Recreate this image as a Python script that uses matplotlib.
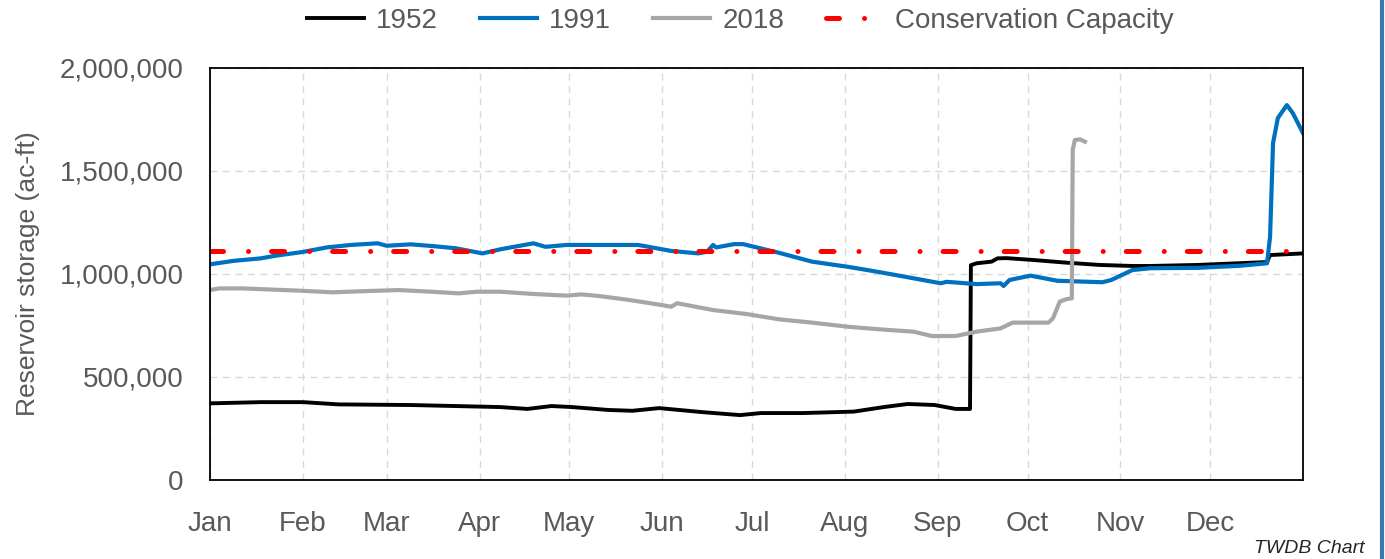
import numpy as np
import matplotlib
matplotlib.use('Agg')
import matplotlib.pyplot as plt
from matplotlib.lines import Line2D
from matplotlib.ticker import FuncFormatter

# day of year -> storage (ac-ft)
days_1952 = [0, 17, 31, 43, 67, 82, 97, 106, 114, 121, 133, 141, 150, 164, 177, 184,
             198, 215, 225, 233, 242, 249, 253.8, 254.1, 256, 261, 263, 266, 275, 286,
             297, 308, 314, 330, 353, 354, 365]
stor_1952 = [372000, 378000, 378000, 367000, 364000, 359000, 354000, 345000, 359000,
             354000, 340000, 336000, 349000, 330000, 315000, 325000, 325000, 332000,
             354000, 369000, 364000, 345000, 345000, 1043000, 1052000, 1060000, 1076000,
             1077000, 1068000, 1055000, 1044000, 1039000, 1039000, 1044000, 1058000,
             1092000, 1100000]

days_1991 = [0, 8, 17, 22, 31, 39, 47, 56, 59, 67, 74, 82, 91, 97, 108, 112, 119, 130,
             143, 154, 163, 166, 168, 169, 175, 178, 190, 201, 213, 224, 235, 244, 246,
             256, 264, 265, 267, 274, 283, 298, 301, 308, 314, 330, 344, 353, 354, 355,
             356.6, 359.6, 361.6, 365]
stor_1991 = [1047000, 1064000, 1076000, 1089000, 1107000, 1129000, 1141000, 1149000,
             1137000, 1144000, 1136000, 1125000, 1100000, 1120000, 1149000, 1132000,
             1141000, 1141000, 1141000, 1112000, 1100000, 1108000, 1141000, 1129000,
             1145000, 1145000, 1103000, 1060000, 1035000, 1008000, 979000, 955000,
             962000, 951000, 955000, 942000, 971000, 992000, 967000, 960000, 971000,
             1019000, 1028000, 1030000, 1040000, 1052000, 1181000, 1636000, 1757000,
             1820000, 1781000, 1684000]

days_2018 = [0, 3, 11, 30, 41, 52, 63, 74, 83, 89, 97, 108, 119, 124, 130, 140, 151,
             154, 156, 168, 179, 190, 201, 213, 224, 235, 241, 249, 256, 264, 268, 280,
             281.5, 283.8, 286, 287.8, 288.1, 288.8, 290.5, 292.2]
stor_2018 = [922000, 930000, 930000, 919000, 911000, 917000, 922000, 914000, 906000,
             914000, 914000, 903000, 895000, 901000, 893000, 874000, 849000, 841000,
             858000, 825000, 806000, 780000, 764000, 744000, 731000, 720000, 699000,
             699000, 720000, 736000, 764000, 764000, 785000, 866000, 878000, 882000,
             1602000, 1650000, 1654000, 1642000]

conservation_capacity = 1113000

month_starts = [0, 31, 59, 90, 120, 151, 181, 212, 243, 273, 304, 334]
month_labels = ['Jan', 'Feb', 'Mar', 'Apr', 'May', 'Jun',
                'Jul', 'Aug', 'Sep', 'Oct', 'Nov', 'Dec']
y_ticks = [0, 500000, 1000000, 1500000, 2000000]

plt.rcParams['font.family'] = ['Liberation Sans', 'DejaVu Sans']
txt = '#595959'

fig = plt.figure(figsize=(13.85, 5.59), dpi=100)
ax = fig.add_axes([210 / 1385, 1 - 480 / 559, 1093 / 1385, 412 / 559])

ax.plot(days_1952, stor_1952, color='black', lw=2.8, label='1952')
ax.plot(days_1991, stor_1991, color='#0070c0', lw=3, label='1991')
ax.plot(days_2018, stor_2018, color='#a6a6a6', lw=3, label='2018')
ax.plot([0, 365], [conservation_capacity] * 2, color='#ff0000', lw=3.6,
        linestyle=(0, (2.6, 5, 0.01, 4.6)), dash_capstyle='round',
        label='Conservation Capacity')

ax.set_xlim(0, 365)
ax.set_ylim(0, 2000000)
ax.set_xticks(month_starts)
ax.set_xticklabels(month_labels)
ax.set_yticks(y_ticks)
ax.yaxis.set_major_formatter(FuncFormatter(lambda v, p: f'{int(v):,}'))
ax.tick_params(length=0, labelsize=20, colors=txt)
ax.tick_params(axis='x', pad=22)
ax.tick_params(axis='y', pad=19)
ax.grid(True, color='#d9d9d9', lw=1, linestyle=(0, (5, 4)))
ax.set_axisbelow(True)
for s in ax.spines.values():
    s.set_color('black')
    s.set_linewidth(1.3)

ax.set_ylabel('Reservoir storage (ac-ft)', fontsize=19, color=txt, labelpad=14)

ax.legend(loc='center', bbox_to_anchor=(0.5 - 16 / 1093, 1 + 47 / 412), ncol=4,
          frameon=False, fontsize=20, labelcolor=txt, handlelength=2.05,
          handletextpad=0.45, columnspacing=1.5)

fig.text(0.985, 0.004, 'TWDB Chart', ha='right', va='bottom', fontsize=14,
         style='italic', color='#262626')
fig.add_artist(Line2D([0.9975, 0.9975], [0, 1], color='#3e78a8', lw=3,
                      transform=fig.transFigure))

plt.savefig('out.png', dpi=100)
